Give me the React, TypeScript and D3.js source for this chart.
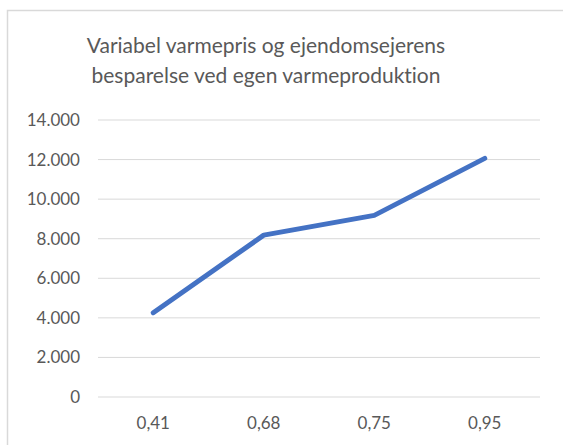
import React from "react";
import * as d3 from "d3";

const categories = ["0,41", "0,68", "0,75", "0,95"];
const values = [4260, 8180, 9180, 12060];
const yTicks = [0, 2000, 4000, 6000, 8000, 10000, 12000, 14000];
const titleLines = ["Variabel varmepris og ejendomsejerens", "besparelse ved egen varmeproduktion"];

const W = 563;
const H = 445;
const FONT = "Lato, 'Open Sans', sans-serif";

export default function App() {
  const x = d3.scaleBand<string>().domain(categories).range([98, 540]);
  const y = d3.scaleLinear().domain([0, 14000]).range([397, 120]);
  const fmt = (v: number) => d3.format(",")(v).replace(/,/g, ".");
  const line = d3
    .line<number>()
    .x((_, i) => (x(categories[i]) as number) + x.bandwidth() / 2)
    .y((d) => y(d));

  return (
    <svg
      width={W}
      height={H}
      style={{ position: "absolute", left: 0, top: 0, background: "#fff", fontVariantLigatures: "none" }}
    >
      <rect x={7.5} y={10.5} width={W} height={H} fill="#fff" stroke="#d9d9d9" strokeWidth={1.5} />
      {titleLines.map((t, i) => (
        <text
          key={i}
          x={266}
          y={53 + i * 30}
          textAnchor="middle"
          fontFamily={FONT}
          fontSize={21}
          fill="#595959"
        >
          {t}
        </text>
      ))}
      {yTicks.map((t) => (
        <g key={t}>
          <line x1={98} x2={540} y1={y(t)} y2={y(t)} stroke="#d9d9d9" strokeWidth={1} />
          <text
            x={80}
            y={y(t)}
            dy="0.35em"
            textAnchor="end"
            fontFamily={FONT}
            fontSize={17}
            fill="#595959"
          >
            {fmt(t)}
          </text>
        </g>
      ))}
      {categories.map((c) => (
        <text
          key={c}
          x={(x(c) as number) + x.bandwidth() / 2}
          y={423}
          dy="0.35em"
          textAnchor="middle"
          fontFamily={FONT}
          fontSize={17}
          fill="#595959"
        >
          {c}
        </text>
      ))}
      <path
        d={line(values) || ""}
        fill="none"
        stroke="#4472c4"
        strokeWidth={5}
        strokeLinecap="round"
        strokeLinejoin="round"
      />
    </svg>
  );
}
